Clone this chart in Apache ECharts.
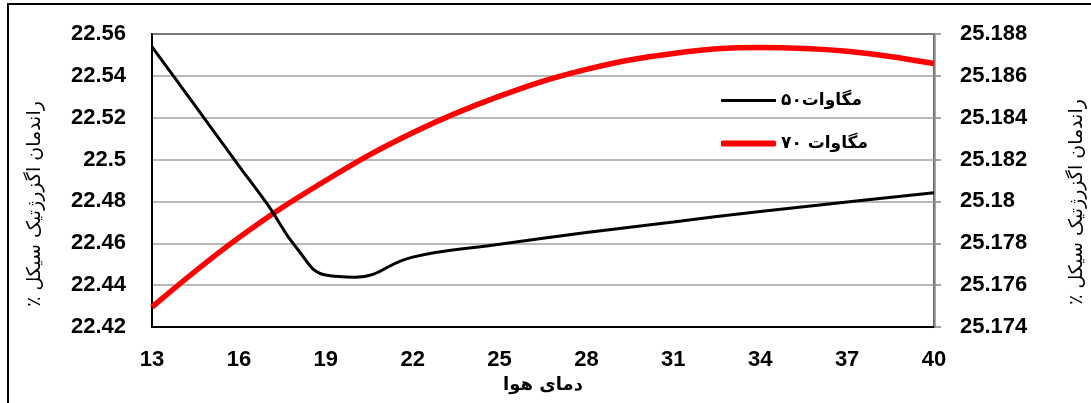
<!DOCTYPE html>
<html>
<head>
<meta charset="utf-8">
<script src="https://cdn.jsdelivr.net/npm/echarts@6/dist/echarts.min.js"></script>
<style>
  html, body { margin: 0; padding: 0; background: #ffffff; }
  #chart { width: 1091px; height: 403px; }
</style>
</head>
<body>
<div id="chart"></div>
<script>
// Air temperature, one category per degree; labels are shown every 3 degrees
const temperatures = ['13', '14', '15', '16', '17', '18', '19', '20', '21', '22', '23', '24', '25', '26',
                      '27', '28', '29', '30', '31', '32', '33', '34', '35', '36', '37', '38', '39', '40'];

// Exergetic cycle efficiency (%), 50 MW unit – left axis (null = not measured)
const efficiency50MW = [22.5538, 22.535, 22.516, 22.497, 22.4783, 22.4576, 22.4448, 22.4438, null, 22.4534,
                        null, null, 22.4595, null, null, 22.4651, null, null, 22.4702, null, null, 22.4752,
                        null, null, 22.4797, null, null, 22.4842];

// Exergetic cycle efficiency (%), 70 MW unit – right axis (null = not measured)
const efficiency70MW = [25.17495, null, null, 25.17827, null, null, 25.18100, null, null, 25.18328,
                        null, null, 25.18503, null, null, 25.18631, null, null, 25.18707, null, null, 25.18736,
                        null, null, 25.18718, null, null, 25.18659];

// Axis ranges: [min, max, step]
const leftRange = [22.42, 22.56, 0.02];
const rightRange = [25.174, 25.188, 0.002];

// Text
const seriesNames = ['۵۰مگاوات', '۷۰ مگاوات'];
const xTitle = 'دمای هوا';
const yTitle = 'راندمان اگزرژتیک سیکل ٪\u200F';

const numFont = "'Liberation Sans', Arial, sans-serif";
const faFont = "'DejaVu Sans', sans-serif";

const chart = echarts.init(document.getElementById('chart'), null, { renderer: 'canvas' });

const option = {
  backgroundColor: '#ffffff',
  animation: false,
  grid: {
    left: 152, right: 157, top: 34, bottom: 76,
    show: true, borderColor: '#000000', borderWidth: 2, backgroundColor: 'transparent'
  },
  legend: [
    {
      data: [seriesNames[0]],
      left: 716, top: 87,
      icon: 'roundRect', itemWidth: 55, itemHeight: 3,
      textStyle: { fontFamily: faFont, fontSize: 17, fontWeight: 'bold', color: '#000000' }
    },
    {
      data: [seriesNames[1]],
      left: 716, top: 130,
      icon: 'roundRect', itemWidth: 55, itemHeight: 6,
      textStyle: { fontFamily: faFont, fontSize: 17, fontWeight: 'bold', color: '#000000' }
    }
  ],
  xAxis: {
    type: 'category',
    data: temperatures,
    boundaryGap: false,
    name: xTitle,
    nameLocation: 'middle',
    nameGap: 45,
    nameTextStyle: { fontFamily: faFont, fontSize: 18, fontWeight: 'bold', color: '#000000' },
    axisLine: { show: true, lineStyle: { color: '#000000', width: 2 } },
    axisTick: { show: false },
    axisLabel: { interval: 2, margin: 22, fontFamily: numFont, fontSize: 22, fontWeight: 'bold', color: '#000000' },
    splitLine: { show: false }
  },
  yAxis: [
    {
      type: 'value',
      position: 'left',
      min: leftRange[0], max: leftRange[1], interval: leftRange[2],
      axisLine: { show: true, lineStyle: { color: '#000000', width: 2 } },
      axisTick: { show: false },
      axisLabel: { margin: 26, fontFamily: numFont, fontSize: 22, fontWeight: 'bold', color: '#000000' },
      splitLine: { show: true, lineStyle: { color: '#a0a0a0', width: 1.6 } }
    },
    {
      type: 'value',
      position: 'right',
      min: rightRange[0], max: rightRange[1], interval: rightRange[2],
      axisLine: { show: true, lineStyle: { color: '#8c8c8c', width: 2.5 } },
      axisTick: { show: true, inside: false, length: 7, lineStyle: { color: '#8c8c8c', width: 1.6 } },
      axisLabel: { margin: 26, fontFamily: numFont, fontSize: 22, fontWeight: 'bold', color: '#000000' },
      splitLine: { show: false }
    }
  ],
  graphic: [
    {
      type: 'rect', silent: true, z: -1,
      shape: { x: 8, y: 4, width: 1200, height: 500 },
      style: { fill: 'none', stroke: '#000000', lineWidth: 2 }
    },
    {
      type: 'text', x: 35, y: 204, rotation: Math.PI / 2,
      style: { text: yTitle, font: '19px ' + faFont, fill: '#000000', align: 'center', verticalAlign: 'middle' }
    },
    {
      type: 'text', x: 1077, y: 202, rotation: Math.PI / 2,
      style: { text: yTitle, font: '19px ' + faFont, fill: '#000000', align: 'center', verticalAlign: 'middle' }
    }
  ],
  series: [
    {
      name: seriesNames[0],
      type: 'line',
      yAxisIndex: 0,
      data: efficiency50MW,
      connectNulls: true,
      smooth: 0.45,
      symbol: 'none',
      lineStyle: { color: '#000000', width: 3 },
      itemStyle: { color: '#000000' },
      z: 3
    },
    {
      name: seriesNames[1],
      type: 'line',
      yAxisIndex: 1,
      data: efficiency70MW,
      connectNulls: true,
      smooth: 0.4,
      symbol: 'none',
      lineStyle: { color: '#ff0000', width: 5.5 },
      itemStyle: { color: '#ff0000' },
      z: 2
    }
  ]
};

chart.setOption(option);
</script>
</body>
</html>
